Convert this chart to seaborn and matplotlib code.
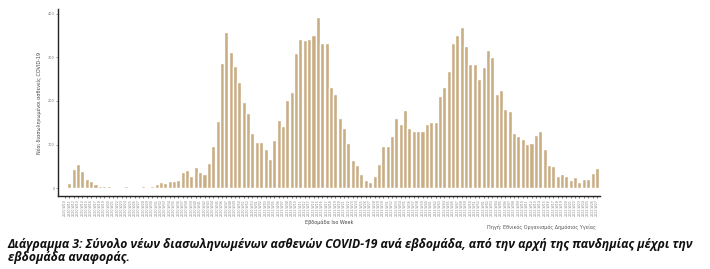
import numpy as np
import pandas as pd
import matplotlib
matplotlib.use("Agg")
import matplotlib.pyplot as plt
import seaborn as sns

# weekly new intubated COVID-19 patients
values = [2, 12, 44, 55, 39, 20, 17, 9, 5, 4,
          4, 3, 2, 2, 6, 3, 2, 2, 4, 3,
          6, 10, 14, 11, 17, 17, 18, 36, 42, 27,
          48, 37, 33, 57, 97, 155, 287, 358, 312, 280,
          244, 198, 172, 126, 106, 106, 90, 67, 111, 157,
          143, 202, 221, 309, 343, 339, 343, 352, 393, 333,
          333, 232, 215, 160, 139, 103, 65, 54, 33, 19,
          13, 28, 56, 97, 97, 119, 162, 148, 180, 137,
          130, 130, 132, 148, 152, 152, 212, 231, 268, 332,
          352, 370, 327, 284, 286, 251, 278, 316, 301, 216,
          226, 182, 178, 126, 120, 113, 102, 103, 123, 132,
          90, 52, 50, 28, 33, 27, 19, 25, 15, 21,
          21, 34, 46]

# ISO week labels 2020-W10 ... 2022-W27
weeks = ([f"2020-W{w:02d}" for w in range(10, 54)]
         + [f"2021-W{w:02d}" for w in range(1, 53)]
         + [f"2022-W{w:02d}" for w in range(1, 28)])

y_ticks = [0, 100, 200, 300, 400]

bar_color = "#C9AE84"

df = pd.DataFrame({"week": weeks, "value": values})

sns.set_style("ticks")
plt.rcParams["font.family"] = ["DejaVu Sans"]

fig = plt.figure(figsize=(7.1, 2.69), dpi=100)
ax = fig.add_axes([0.0817, 0.2714, 0.763, 0.695])

sns.barplot(data=df, x="week", y="value", color=bar_color, width=0.93,
            saturation=1, ax=ax)

ax.set_xlim(-1.6, len(values) - 0.35)
ax.set_ylim(-18, 411)
ax.set_yticks(y_ticks)
ax.set_yticklabels([str(t) for t in y_ticks], fontsize=2.5, color="#777777")
ax.tick_params(axis="x", labelsize=2.3, labelrotation=90, length=1.5,
               width=0.5, colors="#444444", labelcolor="#888888", pad=1)
ax.tick_params(axis="y", length=1.5, width=0.5, colors="#777777", pad=1)
for s in ["top", "right"]:
    ax.spines[s].set_visible(False)
for s in ["left", "bottom"]:
    ax.spines[s].set_linewidth(1.0)
    ax.spines[s].set_color("#222222")

ax.set_xlabel("Εβδομάδα Iso Week", fontsize=3.5, color="#444444", labelpad=2)
ax.set_ylabel("Νέοι διασωληνωμένοι ασθενείς COVID-19", fontsize=3.5,
              color="#444444", labelpad=4)

fig.text(0.84, 0.148, "Πηγή: Εθνικός Οργανισμός Δημόσιας Υγείας",
         fontsize=3.5, color="#555555", ha="right")

caption = ("Διάγραμμα 3: Σύνολο νέων διασωληνωμένων ασθενών COVID-19 ανά εβδομάδα, "
           "από την αρχή της πανδημίας μέχρι την\nεβδομάδα αναφοράς.")
fig.text(0.011, 0.018, caption, fontsize=8.7, fontweight="bold",
         fontstyle="italic", family=["Open Sans", "DejaVu Sans"],
         color="#111111", ha="left", va="bottom", linespacing=1.0)

fig.savefig("out.png", dpi=100)
